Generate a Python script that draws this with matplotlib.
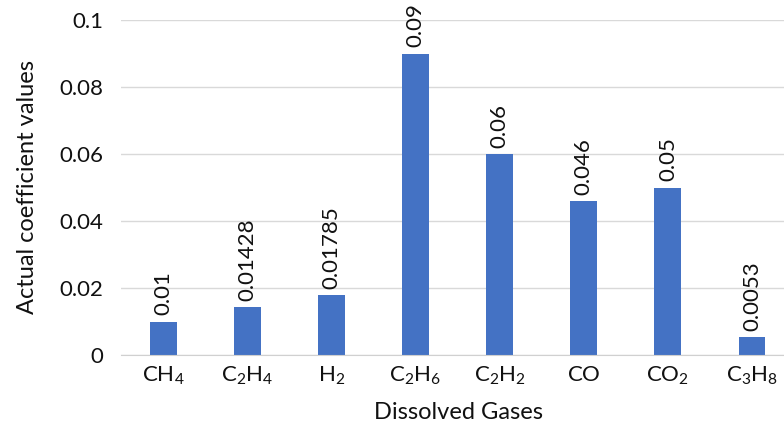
import matplotlib
matplotlib.use("Agg")
import matplotlib.pyplot as plt

gases = ["CH_4", "C_2H_4", "H_2", "C_2H_6", "C_2H_2", "CO", "CO_2", "C_3H_8"]
coef = [0.01, 0.01428, 0.01785, 0.09, 0.06, 0.046, 0.05, 0.0053]
value_labels = ["0.01", "0.01428", "0.01785", "0.09", "0.06", "0.046", "0.05", "0.0053"]
yticks = [0, 0.02, 0.04, 0.06, 0.08, 0.1]
ytick_labels = ["0", "0.02", "0.04", "0.06", "0.08", "0.1"]

plt.rcParams["font.family"] = ["Lato", "DejaVu Sans"]
plt.rcParams["mathtext.fontset"] = "custom"
plt.rcParams["mathtext.rm"] = "Lato"

fig = plt.figure(figsize=(7.84, 4.30), dpi=100)
ax = fig.add_axes([121 / 784, 1 - 355 / 430, 1 - 121 / 784, 335 / 430])

x = range(len(gases))
ax.bar(x, coef, width=0.32, color="#4472C4", zorder=3)
for xi, v, lab in zip(x, coef, value_labels):
    ax.text(xi, v + 0.0018, lab, rotation=90, ha="center", va="bottom",
            fontsize=16, color="#111111", zorder=4)

ax.set_xlim(-0.5, 7.38)
ax.set_ylim(0, 0.1)
ax.set_yticks(yticks)
ax.set_yticklabels(ytick_labels)
ax.set_xticks(list(x))
ax.set_xticklabels([r"$\mathregular{" + g + "}$" for g in gases])
ax.tick_params(axis="both", length=0, labelsize=16, colors="#111111")
ax.tick_params(axis="y", pad=13)
ax.tick_params(axis="x", pad=7)
ax.yaxis.grid(True, color="#d9d9d9", linewidth=1, zorder=0)
for s in ["top", "right", "left"]:
    ax.spines[s].set_visible(False)
ax.spines["bottom"].set_color("#d0d0d0")
ax.spines["bottom"].set_zorder(5)

ax.set_xlabel("Dissolved Gases", fontsize=17, color="#111111")
ax.xaxis.set_label_coords((459 - 121) / (784 - 121), -(402 - 355) / 335)
ax.set_ylabel("Actual coefficient values", fontsize=17, color="#111111")
ax.yaxis.set_label_coords(-(121 - 38) / (784 - 121), 0.5)

fig.savefig("out.png", dpi=100)
